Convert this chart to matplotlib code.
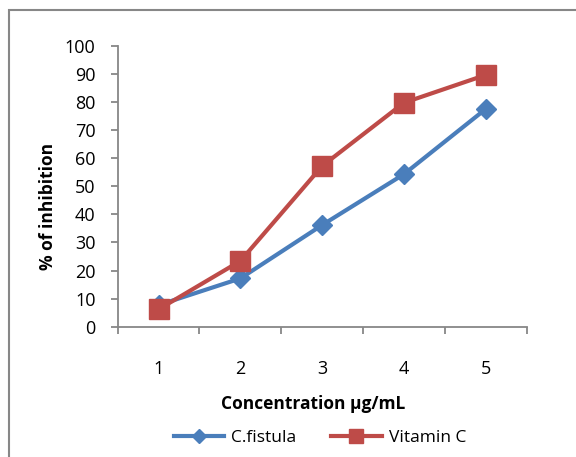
import matplotlib
matplotlib.use("Agg")
from matplotlib import pyplot as plt
from matplotlib.patches import Rectangle
import numpy as np

plt.rcParams['font.family'] = ['Open Sans', 'DejaVu Sans']

# data
conc = [1, 2, 3, 4, 5]
fistula = [7.7, 17.2, 36.2, 54.3, 77.5]
vitc = [6.2, 23.4, 57.2, 79.7, 89.6]

blue = '#4A7EBB'
red = '#BE4B48'
grey = '#878787'

fig = plt.figure(figsize=(5.76, 4.57), dpi=100)
ax = fig.add_axes([0.2043, 0.285, 0.7101, 0.615])

x = np.arange(len(conc)) + 1
ax.plot(x, fistula, color=blue, lw=3, marker='D', markersize=10,
        label='C.fistula', zorder=3)
ax.plot(x, vitc, color=red, lw=3, marker='s', markersize=14,
        label='Vitamin C', zorder=4)

ax.set_xlim(0.5, 5.5)
ax.set_ylim(0, 100)
ax.set_yticks(range(0, 101, 10))
ax.set_xticks(x)
ax.set_xticklabels([str(c) for c in conc])
ax.set_xticks(np.arange(0.5, 5.6, 1), minor=True)

for s in ['top', 'right']:
    ax.spines[s].set_visible(False)
for s in ['left', 'bottom']:
    ax.spines[s].set_color(grey)
    ax.spines[s].set_linewidth(1.3)

ax.tick_params(axis='x', which='major', length=0, pad=24, labelsize=13)
ax.tick_params(axis='x', which='minor', length=5, width=1.3, color=grey,
               direction='out')
ax.tick_params(axis='y', length=5, width=1.3, color=grey, direction='out',
               pad=11, labelsize=13)

fig.text(313/576, 1-404/457, 'Concentration µg/mL', ha='center',
         va='center', fontsize=12.5, fontweight='bold')
fig.text(48/576, 1-206/457, '% of inhibition', ha='center', va='center',
         rotation=90, fontsize=12.5, fontweight='bold')

fig.legend(loc='center', bbox_to_anchor=(320/576, 1-438/457), ncol=2,
           frameon=False, fontsize=12.5, handlelength=2.9,
           columnspacing=2.0, handletextpad=0.4, markerscale=0.75)

# chart border (right/bottom edges run off the image)
fig.patches.append(Rectangle((9/576, -0.1), 1.2, 1-10/457+0.1,
                             transform=fig.transFigure, fill=False,
                             edgecolor=grey, lw=1.5))

fig.savefig('out.png', dpi=100)
